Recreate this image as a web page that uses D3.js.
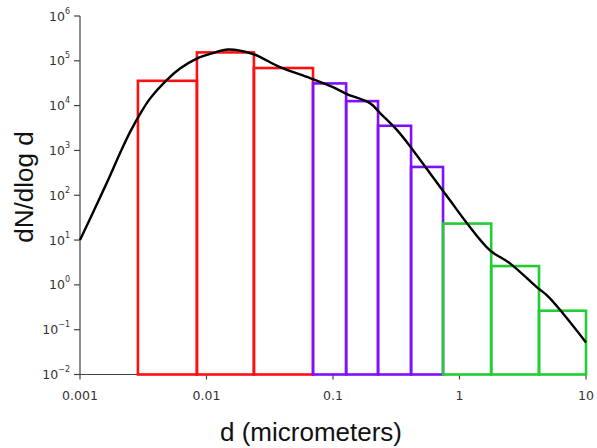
<!DOCTYPE html>
<html>
<head>
<meta charset="utf-8">
<script src="https://cdn.jsdelivr.net/npm/d3@7"></script>
<style>
  html, body { margin: 0; padding: 0; background: #fff; }
  svg { display: block; }
</style>
</head>
<body>
<svg id="chart" width="597" height="448"></svg>
<script>
// Size-bin edges (micrometers) and dN/dlog d per bin, grouped by colour
const redEdges = [0.00287, 0.0084, 0.0237, 0.0695];
const redValues = [35800, 154000, 69000];
const purpleEdges = [0.0695, 0.127, 0.227, 0.414, 0.741];
const purpleValues = [31300, 12600, 3550, 428];
const greenEdges = [0.741, 1.78, 4.25, 10];
const greenValues = [23.3, 2.63, 0.265];

// Continuous size distribution
const curveD = [0.001, 0.001314, 0.001664, 0.002071, 0.002485, 0.00298, 0.003576, 0.004845, 0.006173, 0.008367, 0.011255, 0.01479, 0.0233, 0.0381, 0.0658, 0.1, 0.129, 0.196, 0.2355, 0.321, 0.429, 0.617, 0.841, 1.146, 1.742, 2.506, 4.1, 4.92, 6.58, 10];
const curveN = [10, 51.2, 216, 868, 2558, 6457, 14330, 37150, 67100, 112300, 149000, 178400, 141600, 72500, 41200, 25900, 18070, 11370, 6800, 2836, 1014, 252, 77, 23.7, 5.9, 3.02, 0.88, 0.58, 0.23, 0.052];

const xTicks = [0.001, 0.01, 0.1, 1, 10];
const xTickLabels = ["0.001", "0.01", "0.1", "1", "10"];
const yExponents = [6, 5, 4, 3, 2, 1, 0, -1, -2];

const svg = d3.select("#chart");
const x = d3.scaleLog().domain([0.001, 10]).range([80, 586]);
const y = d3.scaleLog().domain([0.01, 1e6]).range([374.5, 16]);
const axisColor = "#444";

// Y axis
const yAxis = svg.append("g").attr("transform", "translate(80,0)");
yAxis.append("line").attr("x1", 0).attr("x2", 0)
  .attr("y1", y(1e6)).attr("y2", y(0.01))
  .attr("stroke", axisColor).attr("stroke-width", 1.2);
yExponents.forEach(e => {
  const yy = y(Math.pow(10, e));
  yAxis.append("line").attr("x1", -6).attr("x2", 0).attr("y1", yy).attr("y2", yy)
    .attr("stroke", axisColor).attr("stroke-width", 1.2);
  const t = yAxis.append("text")
    .attr("x", -10).attr("y", yy + 4.5)
    .attr("text-anchor", "end")
    .attr("font-family", "DejaVu Sans, sans-serif")
    .attr("font-size", 12.5).attr("fill", "#333");
  t.append("tspan").text("10");
  t.append("tspan").attr("dy", -7).attr("font-size", 8)
    .text(e < 0 ? "\u2212" + (-e) : String(e));
});

// X axis
const xAxis = svg.append("g").attr("transform", "translate(0,374.5)");
xAxis.append("line").attr("x1", x(0.001)).attr("x2", x(10))
  .attr("y1", 0).attr("y2", 0)
  .attr("stroke", axisColor).attr("stroke-width", 1.2);
xTicks.forEach((v, i) => {
  const xx = x(v);
  xAxis.append("line").attr("x1", xx).attr("x2", xx).attr("y1", 0).attr("y2", 5)
    .attr("stroke", axisColor).attr("stroke-width", 1.2);
  xAxis.append("text")
    .attr("x", xx).attr("y", 25.5)
    .attr("text-anchor", "middle")
    .attr("font-family", "DejaVu Sans, sans-serif")
    .attr("font-size", 12.5).attr("fill", "#333")
    .text(xTickLabels[i]);
});

// Axis titles
svg.append("text")
  .attr("x", 311).attr("y", 441)
  .attr("text-anchor", "middle")
  .attr("font-family", "Liberation Sans, Arial, sans-serif")
  .attr("font-size", 26).attr("fill", "#111")
  .text("d (micrometers)");
svg.append("text")
  .attr("transform", "translate(33,187) rotate(-90)")
  .attr("text-anchor", "middle")
  .attr("font-family", "Liberation Sans, Arial, sans-serif")
  .attr("font-size", 26).attr("fill", "#111")
  .text("dN/dlog d");

// Histogram bins as outlined boxes
function drawBins(edges, values, color) {
  const bins = values.map((v, i) => ({ x0: edges[i], x1: edges[i + 1], v }));
  svg.append("g").selectAll("rect").data(bins).join("rect")
    .attr("x", d => x(d.x0))
    .attr("width", d => x(d.x1) - x(d.x0))
    .attr("y", d => y(d.v))
    .attr("height", d => y(0.01) - y(d.v))
    .attr("fill", "none")
    .attr("stroke", color)
    .attr("stroke-width", 2.6);
}
drawBins(redEdges, redValues, "#ff1010");
drawBins(purpleEdges, purpleValues, "#7f10ff");
drawBins(greenEdges, greenValues, "#22cc33");

// Distribution curve
const pts = curveD.map((d, i) => [d, curveN[i]]);
svg.append("path")
  .datum(pts)
  .attr("d", d3.line().x(p => x(p[0])).y(p => y(p[1])).curve(d3.curveCatmullRom.alpha(0.5)))
  .attr("fill", "none")
  .attr("stroke", "#000")
  .attr("stroke-width", 2.4);
</script>
</body>
</html>
